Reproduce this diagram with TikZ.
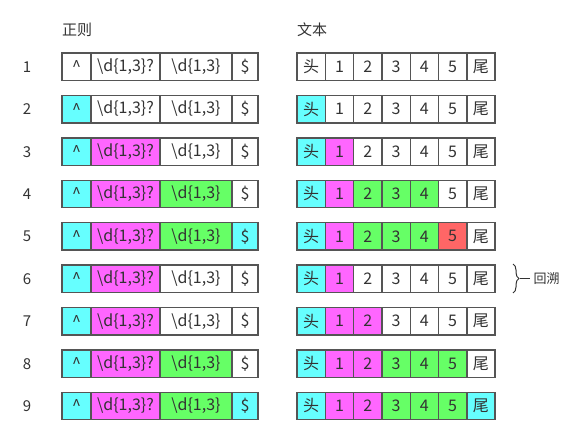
\documentclass[tikz,border=0pt]{standalone}
\usepackage{fontspec}
\setmainfont{Noto Sans CJK SC}
\usetikzlibrary{decorations.pathreplacing}
\definecolor{hcyan}{HTML}{66FFFF}
\definecolor{hmag}{HTML}{FF66FF}
\definecolor{hgreen}{HTML}{66FF66}
\definecolor{hred}{HTML}{FF6666}
\definecolor{edge}{HTML}{555555}
\definecolor{ink}{HTML}{333333}
\tikzset{
  cell/.style={draw=edge, line width=1.4pt, minimum height=27.5pt, inner sep=0pt, outer sep=0pt,
    anchor=north west, text=ink, font=\fontsize{16}{16}\selectfont},
  tcell/.style={cell, minimum width=28.3pt},
  head/.style={text=ink, font=\fontsize{15}{15}\selectfont},
  rownum/.style={text=ink, font=\fontsize{15}{15}\selectfont},
}

\begin{document}
\begin{tikzpicture}[x=1pt, y=-1pt]
\useasboundingbox (0,0) rectangle (568,439);

\node[head] (hre) at (77,30) {正则};
\node[head] (htx) at (312,30) {文本};

%rows: regex colours, then text colours
\foreach \r/\ra/\rb/\rc/\rd/\ta/\tb/\tc/\tdd/\te/\tf/\tg in {
  1/white/white/white/white/white/white/white/white/white/white/white,
  2/hcyan/white/white/white/hcyan/white/white/white/white/white/white,
  3/hcyan/hmag/white/white/hcyan/hmag/white/white/white/white/white,
  4/hcyan/hmag/hgreen/white/hcyan/hmag/hgreen/hgreen/hgreen/white/white,
  5/hcyan/hmag/hgreen/hcyan/hcyan/hmag/hgreen/hgreen/hgreen/hred/white,
  6/hcyan/hmag/white/white/hcyan/hmag/white/white/white/white/white,
  7/hcyan/hmag/white/white/hcyan/hmag/hmag/white/white/white/white,
  8/hcyan/hmag/hgreen/white/hcyan/hmag/hmag/hgreen/hgreen/hgreen/white,
  9/hcyan/hmag/hgreen/hcyan/hcyan/hmag/hmag/hgreen/hgreen/hgreen/hcyan} {
  \pgfmathsetmacro\y{53+(\r-1)*42.4}
  \node[rownum] (n\r) at (27,\y+14) {\r};
  % regex
  \node[cell, fill=\ra, minimum width=29pt] (a\r) at (62,\y) {\textasciicircum};
  \node[cell, fill=\rb, minimum width=69pt] (b\r) at (a\r.north east) {\textbackslash d\{1,3\}?};
  \node[cell, fill=\rc, minimum width=72pt] (c\r) at (b\r.north east) {\textbackslash d\{1,3\}};
  \node[cell, fill=\rd, minimum width=26pt] (d\r) at (c\r.north east) {\$};
  % text
  \node[tcell, fill=\ta] (t\r-0) at (297,\y) {头};
  \node[tcell, fill=\tb] (t\r-1) at (t\r-0.north east) {1};
  \node[tcell, fill=\tc] (t\r-2) at (t\r-1.north east) {2};
  \node[tcell, fill=\tdd] (t\r-3) at (t\r-2.north east) {3};
  \node[tcell, fill=\te] (t\r-4) at (t\r-3.north east) {4};
  \node[tcell, fill=\tf] (t\r-5) at (t\r-4.north east) {5};
  \node[tcell, fill=\tg] (t\r-6) at (t\r-5.north east) {尾};
}

%backtrack
\coordinate (bs) at (513,264);
\coordinate (be) at (513,293);
\draw[ink, line width=1pt, decorate, decoration={brace, amplitude=6pt}] (bs) -- (be);
\coordinate (tip) at (520,278.5);
\node[head, anchor=west, font=\fontsize{13}{13}\selectfont] (bt) at (530,278.5) {回溯};
\draw[ink, line width=1pt] (tip) -- (bt.west);
\end{tikzpicture}
\end{document}
